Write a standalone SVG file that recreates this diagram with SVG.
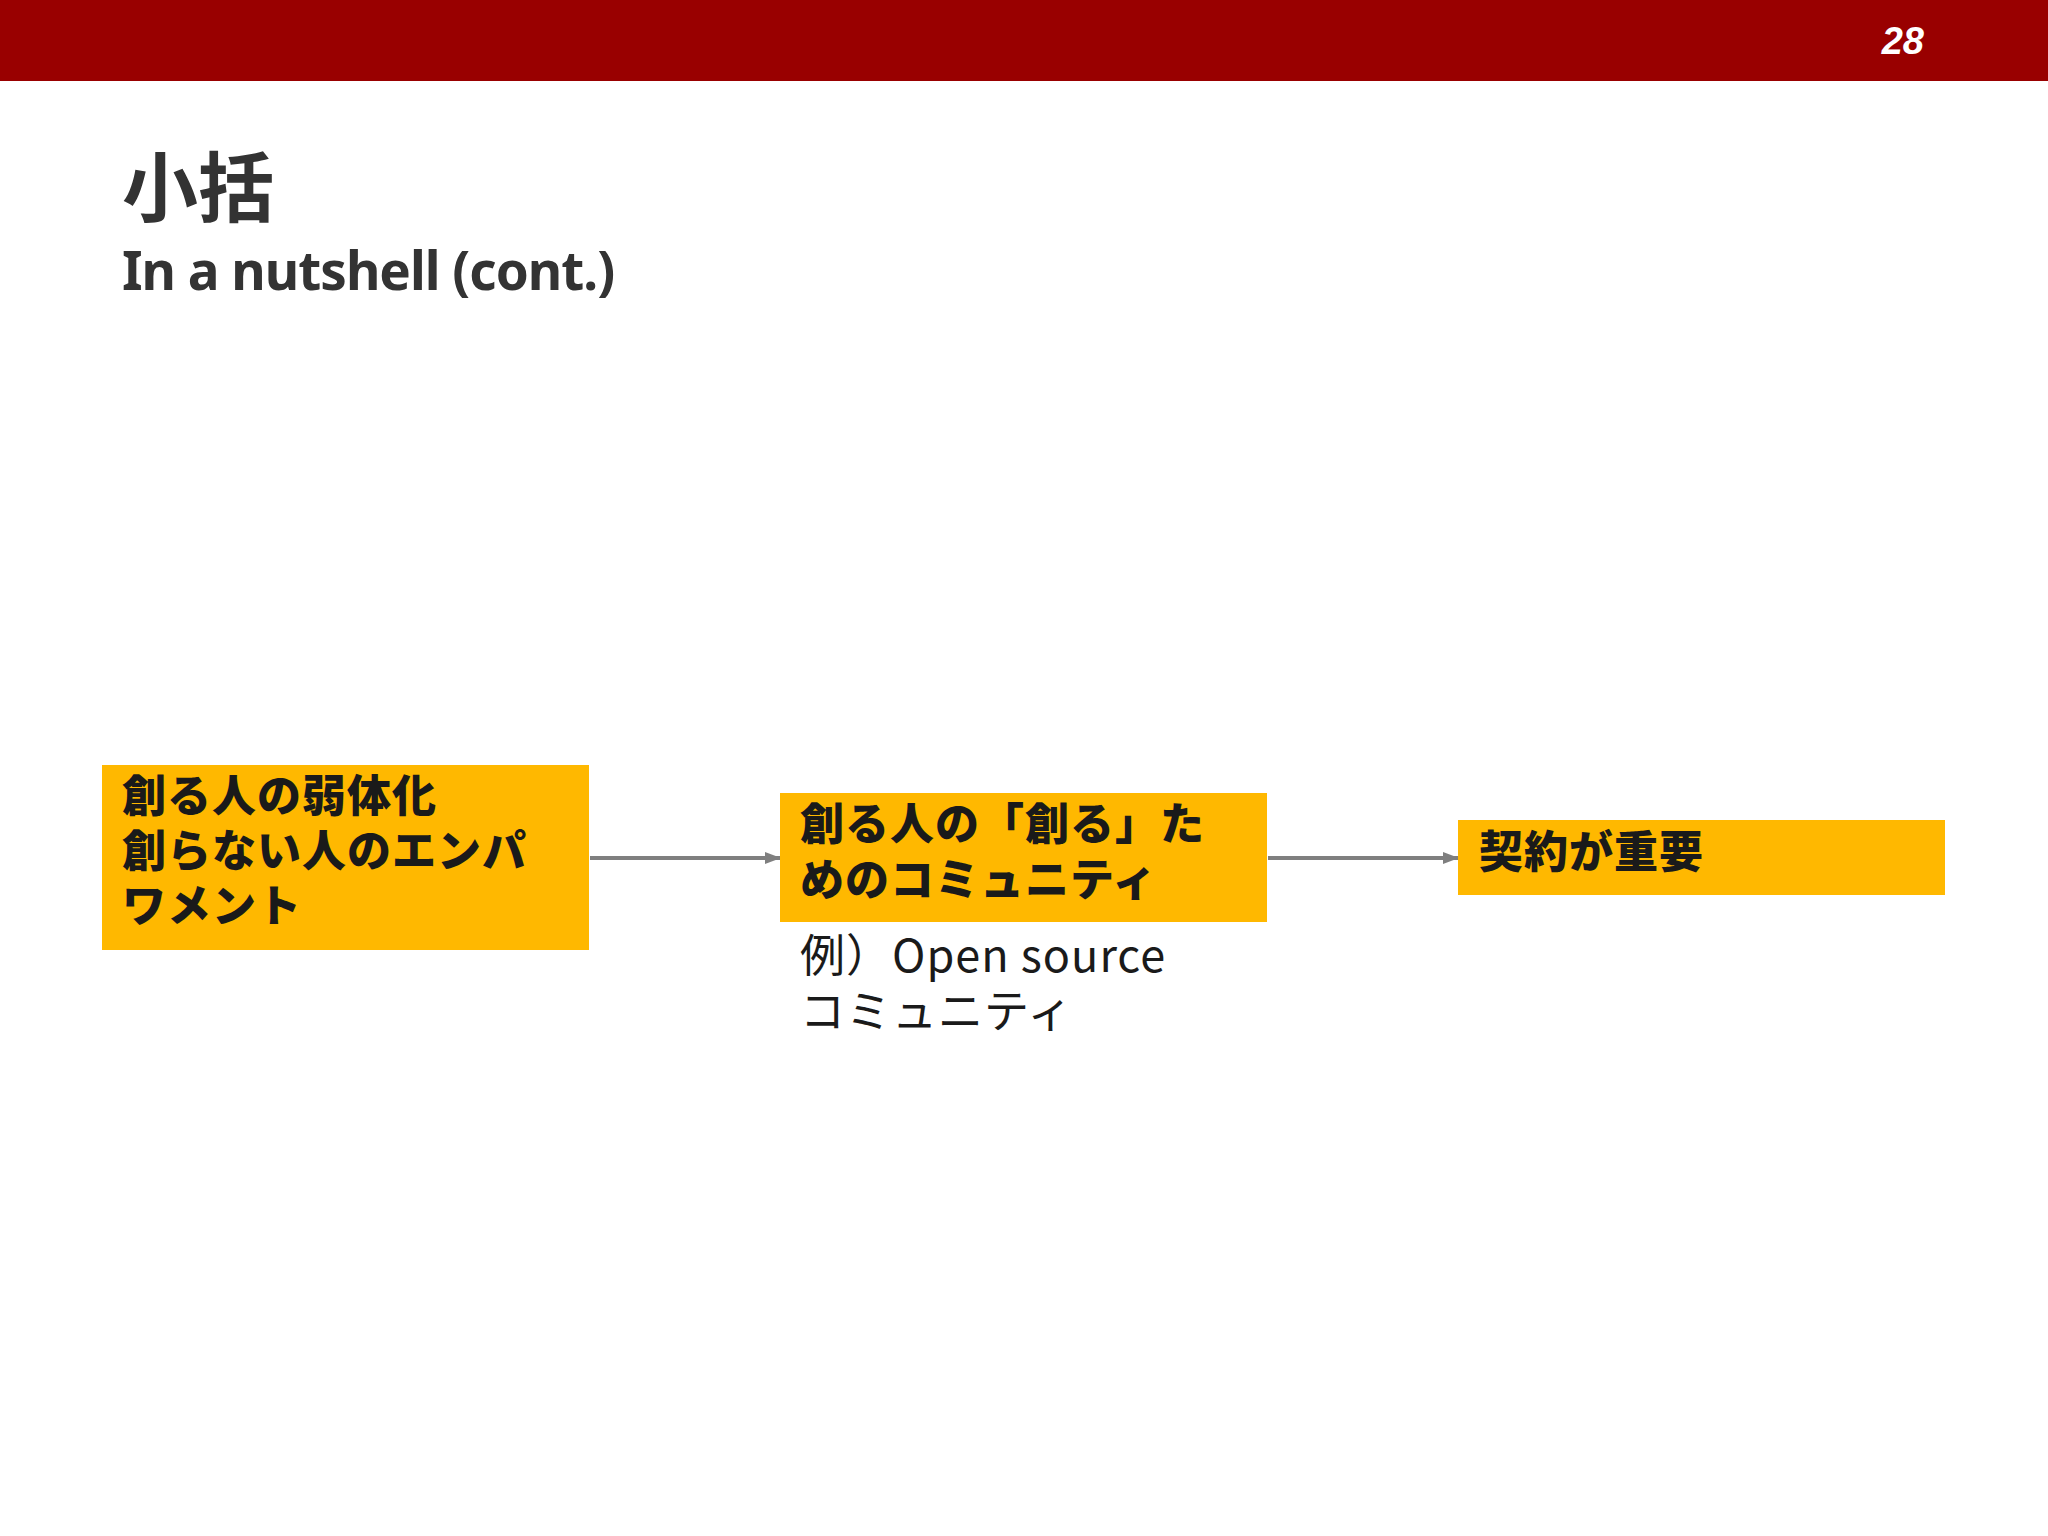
<svg xmlns="http://www.w3.org/2000/svg" width="2048" height="1536" viewBox="0 0 2048 1536">
<style>
.box{fill:#FFB800}
.bt{font-family:"Noto Sans CJK JP","Noto Sans",sans-serif;font-weight:900;font-size:44px;letter-spacing:1px;fill:#1a1a1a}
.ct{font-family:"Noto Sans CJK JP","Noto Sans",sans-serif;font-size:45px;letter-spacing:1px;fill:#1a1a1a}
.conn{stroke:#7f7f7f;stroke-width:4;fill:none;marker-end:url(#ah)}
</style>
<defs><marker id="ah" markerWidth="16" markerHeight="16" refX="15" refY="8" orient="auto" markerUnits="userSpaceOnUse" viewBox="0 0 16 16"><path d="M0,2 L16,8 L0,14 z" fill="#7f7f7f"/></marker></defs>
<rect width="2048" height="1536" fill="#fff"/>
<rect width="2048" height="81" fill="#990000"/>
<text x="1924" y="54" text-anchor="end" font-family="Liberation Sans,sans-serif" font-style="italic" font-weight="bold" font-size="38" fill="#fff">28</text>
<text x="122" y="216" font-family="Noto Sans CJK JP,sans-serif" font-weight="bold" font-size="76" fill="#333">小括</text>
<text x="122" y="290" font-family="Noto Sans,Open Sans,sans-serif" font-weight="bold" font-size="53" letter-spacing="-1" fill="#333">In a nutshell (cont.)</text>
<g id="conns">
<line class="conn" x1="590" y1="858" x2="780" y2="858"/>
<line class="conn" x1="1268" y1="858" x2="1458" y2="858"/>
</g>
<g id="n1"><rect class="box" x="102" y="765" width="487" height="185"/>
<text class="bt" x="122" y="812">創る人の弱体化</text>
<text class="bt" x="122" y="867">創らない人のエンパ</text>
<text class="bt" x="122" y="922">ワメント</text></g>
<g id="n2"><rect class="box" x="780" y="793" width="487" height="129"/>
<text class="bt" x="800" y="840">創る人の「創る」た</text>
<text class="bt" x="800" y="896">めのコミュニティ</text></g>
<g id="cap"><text class="ct" x="800" y="972">例）Open source</text>
<text class="ct" x="800" y="1028">コミュニティ</text></g>
<g id="n3"><rect class="box" x="1458" y="820" width="487" height="75"/>
<text class="bt" x="1479" y="868">契約が重要</text></g>
</svg>
